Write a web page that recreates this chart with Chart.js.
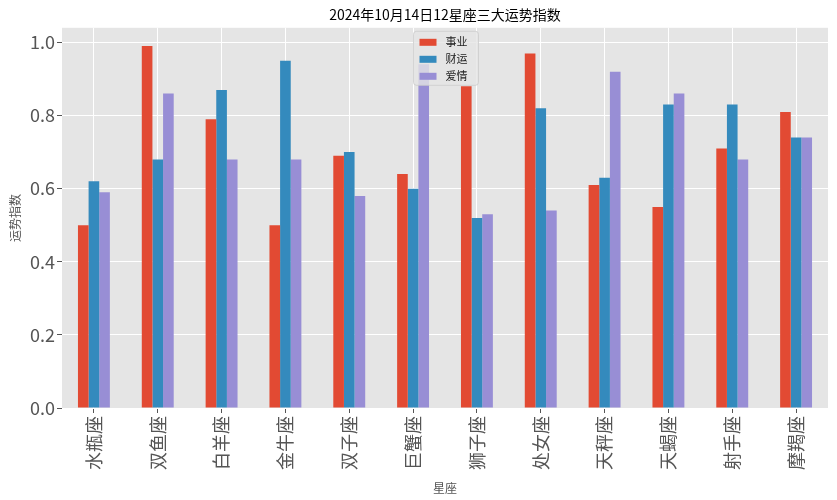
<!DOCTYPE html>
<html>
<head>
<meta charset="utf-8">
<script src="https://cdn.jsdelivr.net/npm/chart.js@4"></script>
<style>
  html, body { margin: 0; padding: 0; background: #fff; }
  #wrap { width: 837px; height: 500px; }
</style>
</head>
<body>
<div id="wrap"><canvas id="fortuneChart"></canvas></div>
<script>
const signs = ['水瓶座', '双鱼座', '白羊座', '金牛座', '双子座', '巨蟹座', '狮子座', '处女座', '天秤座', '天蝎座', '射手座', '摩羯座'];
const career = [0.50, 0.99, 0.79, 0.50, 0.69, 0.64, 0.88, 0.97, 0.61, 0.55, 0.71, 0.81];
const wealth = [0.62, 0.68, 0.87, 0.95, 0.70, 0.60, 0.52, 0.82, 0.63, 0.83, 0.83, 0.74];
const love = [0.59, 0.86, 0.68, 0.68, 0.58, 0.94, 0.53, 0.54, 0.92, 0.86, 0.68, 0.74];
const yTicks = [0, 0.2, 0.4, 0.6, 0.8, 1.0];

const FONT = '"Noto Sans CJK SC", "DejaVu Sans", sans-serif';

// grey panel behind the bars, like ggplot style
const panelBg = {
  id: 'panelBg',
  beforeDraw(chart) {
    const { ctx, chartArea: a } = chart;
    ctx.save();
    ctx.fillStyle = '#E5E5E5';
    ctx.fillRect(a.left, a.top, a.right - a.left, a.bottom - a.top);
    ctx.restore();
  }
};

// legend box inside the plot, upper centre
const innerLegend = {
  id: 'innerLegend',
  afterDatasetsDraw(chart) {
    const { ctx, chartArea: a } = chart;
    const w = 65, h = 54;
    const x = Math.round((a.left + a.right) / 2 - w / 2) + 0.5;
    const y = a.top + 3.5;
    ctx.save();
    ctx.fillStyle = 'rgba(229,229,229,0.8)';
    ctx.strokeStyle = 'rgba(204,204,204,0.8)';
    ctx.lineWidth = 1;
    ctx.beginPath();
    ctx.roundRect(x, y, w, h, 3);
    ctx.fill();
    ctx.stroke();
    ctx.font = '11px ' + FONT;
    ctx.textBaseline = 'middle';
    chart.data.datasets.forEach((ds, i) => {
      const ry = y + 11 + i * 17;
      ctx.fillStyle = ds.backgroundColor;
      ctx.fillRect(x + 6, ry - 3.5, 17, 7);
      ctx.fillStyle = '#222';
      ctx.fillText(ds.label, x + 32, ry);
    });
    ctx.restore();
  }
};

new Chart(document.getElementById('fortuneChart'), {
  type: 'bar',
  data: {
    labels: signs,
    datasets: [
      { label: '事业', data: career, backgroundColor: '#E24A33' },
      { label: '财运', data: wealth, backgroundColor: '#348ABD' },
      { label: '爱情', data: love, backgroundColor: '#988ED5' }
    ]
  },
  options: {
    responsive: true,
    maintainAspectRatio: false,
    animation: false,
    layout: { padding: { left: 0, right: 9, top: 0, bottom: 0 } },
    datasets: { bar: { categoryPercentage: 0.5, barPercentage: 1.0 } },
    plugins: {
      legend: { display: false },
      tooltip: { enabled: false },
      title: {
        display: true,
        fullSize: false,
        text: '2024年10月14日12星座三大运势指数',
        color: '#000',
        font: { family: FONT, size: 14, weight: 'normal', lineHeight: 1.2 },
        padding: { top: 6, bottom: 5 }
      }
    },
    scales: {
      x: {
        grid: { color: '#FFFFFF', lineWidth: 1, offset: false, tickColor: '#555', tickLength: 5 },
        border: { display: false },
        ticks: {
          color: '#555',
          font: { family: FONT, size: 18 },
          maxRotation: 90,
          minRotation: 90,
          padding: 3
        },
        title: {
          display: true,
          text: '星座',
          color: '#555',
          font: { family: FONT, size: 12 },
          padding: { top: 0, bottom: 4 }
        },
        afterFit(scale) { scale.height = 92; }
      },
      y: {
        min: 0,
        max: 1.04,
        afterBuildTicks(scale) {
          scale.ticks = yTicks.map(v => ({ value: v }));
        },
        grid: { color: '#FFFFFF', lineWidth: 1, tickColor: '#555', tickLength: 5 },
        border: { display: false },
        ticks: {
          color: '#555',
          font: { family: FONT, size: 18 },
          padding: 2,
          callback: v => v.toFixed(1)
        },
        title: {
          display: true,
          text: '运势指数',
          color: '#555',
          font: { family: FONT, size: 12 },
          padding: { top: 8, bottom: 0 }
        },
        afterFit(scale) { scale.width = 62; }
      }
    }
  },
  plugins: [panelBg, innerLegend]
});
</script>
</body>
</html>
